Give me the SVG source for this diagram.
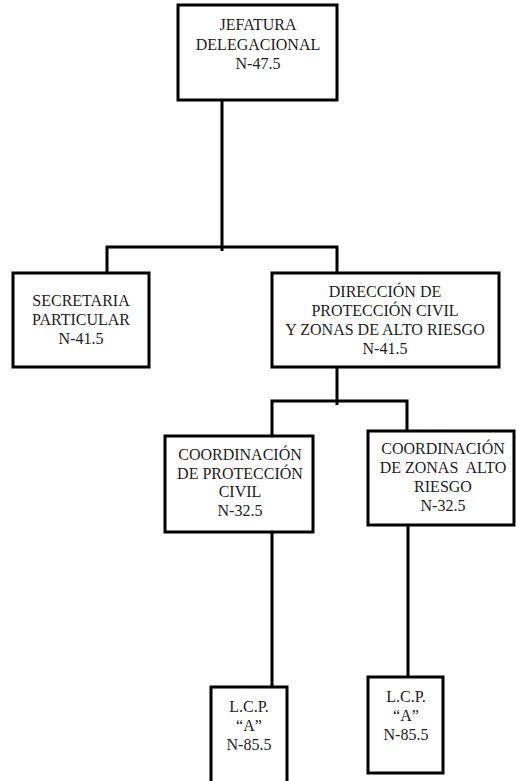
<svg xmlns="http://www.w3.org/2000/svg" width="516" height="781" viewBox="0 0 516 781">
  <style>
    .box { fill: #ffffff; stroke: #000000; stroke-width: 3; }
    .wire { fill: none; stroke: #000000; stroke-width: 3; stroke-linecap: butt; }
    .lbl { font-family: "Liberation Serif", "Times New Roman", serif; font-size: 16px; fill: #222222; text-anchor: middle; white-space: pre; }
  </style>
  <rect width="516" height="781" fill="#ffffff"/>

  <!-- org chart lines -->
  <g id="connectors">
    <path class="wire" d="M222 100 V251"/>
    <path class="wire" d="M107 274 V247 H337 V274"/>
    <path class="wire" d="M337 367 V405"/>
    <path class="wire" d="M272 437 V401 H407 V431"/>
    <path class="wire" d="M272 532 V687"/>
    <path class="wire" d="M408 525 V677"/>
  </g>

  <g id="jefatura">
    <rect class="box" x="178" y="5" width="159" height="95"/>
    <text class="lbl" x="258" y="30">JEFATURA</text>
    <text class="lbl" x="258" y="50">DELEGACIONAL</text>
    <text class="lbl" x="258" y="69">N-47.5</text>
  </g>

  <g id="secretaria">
    <rect class="box" x="13" y="273" width="136" height="94"/>
    <text class="lbl" x="81" y="306">SECRETARIA</text>
    <text class="lbl" x="81" y="325">PARTICULAR</text>
    <text class="lbl" x="81" y="344">N-41.5</text>
  </g>

  <g id="direccion">
    <rect class="box" x="272" y="273" width="227" height="94"/>
    <text class="lbl" x="385" y="297">DIRECCIÓN DE</text>
    <text class="lbl" x="385" y="316">PROTECCIÓN CIVIL</text>
    <text class="lbl" x="385" y="335">Y ZONAS DE ALTO RIESGO</text>
    <text class="lbl" x="385" y="354">N-41.5</text>
  </g>

  <g id="coord-proteccion">
    <rect class="box" x="165" y="436" width="148" height="96"/>
    <text class="lbl" x="240" y="460">COORDINACIÓN</text>
    <text class="lbl" x="240" y="479">DE PROTECCIÓN</text>
    <text class="lbl" x="240" y="497">CIVIL</text>
    <text class="lbl" x="240" y="516">N-32.5</text>
  </g>

  <g id="coord-zonas">
    <rect class="box" x="368" y="431" width="146" height="94"/>
    <text class="lbl" x="443" y="454">COORDINACIÓN</text>
    <text class="lbl" x="443" y="473">DE ZONAS  ALTO</text>
    <text class="lbl" x="443" y="492">RIESGO</text>
    <text class="lbl" x="443" y="511">N-32.5</text>
  </g>

  <g id="lcp-proteccion">
    <rect class="box" x="211" y="687" width="76" height="100"/>
    <text class="lbl" x="249" y="712">L.C.P.</text>
    <text class="lbl" x="249" y="731">“A”</text>
    <text class="lbl" x="249" y="750">N-85.5</text>
  </g>

  <g id="lcp-zonas">
    <rect class="box" x="368" y="677" width="75" height="96"/>
    <text class="lbl" x="406" y="702">L.C.P.</text>
    <text class="lbl" x="406" y="721">“A”</text>
    <text class="lbl" x="406" y="740">N-85.5</text>
  </g>
</svg>
